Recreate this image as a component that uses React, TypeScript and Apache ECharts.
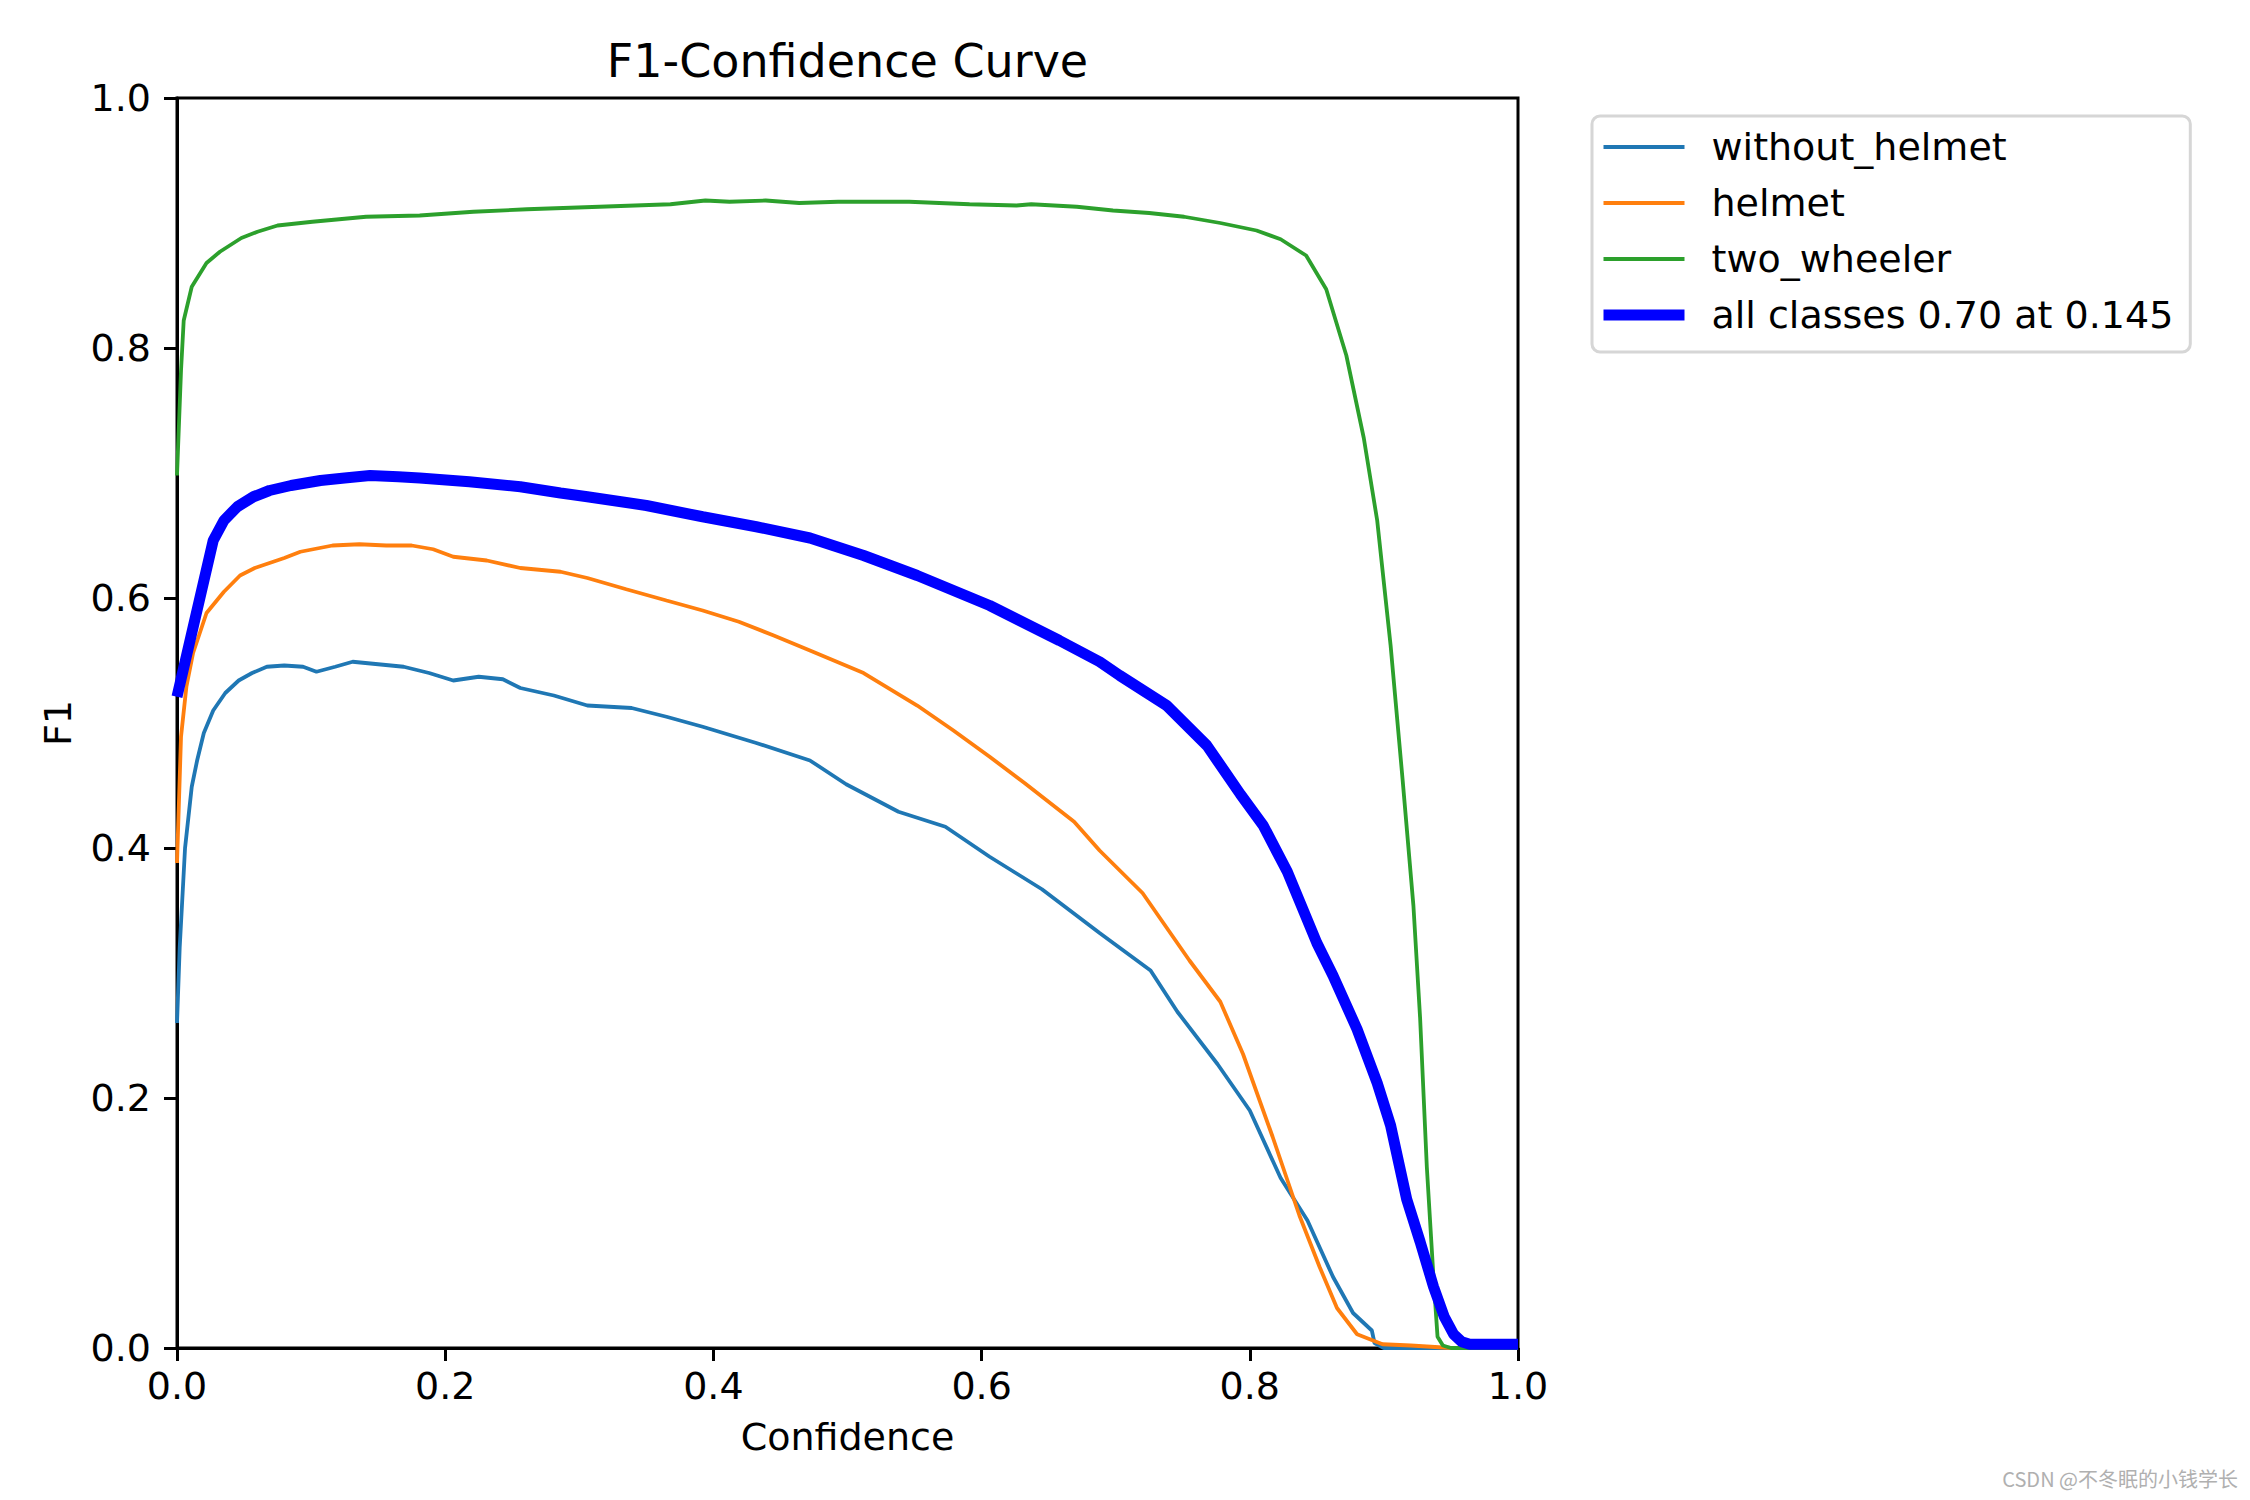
import React, { useEffect, useRef } from "react";
import * as echarts from "echarts";

const TITLE = "F1-Confidence Curve";
const X_NAME = "Confidence";
const Y_NAME = "F1";
const WATERMARK = "CSDN @不冬眠的小钱学长";

const seriesNames = ["without_helmet", "helmet", "two_wheeler", "all classes 0.70 at 0.145"];
const seriesColors = ["#1f77b4", "#ff7f0e", "#2ca02c", "#0000ff"];

const withoutHelmetX = [0, 0.002, 0.006, 0.011, 0.015, 0.02, 0.027, 0.036, 0.046, 0.056, 0.067, 0.08, 0.094, 0.104, 0.118, 0.131, 0.15, 0.169, 0.188, 0.206, 0.225, 0.243, 0.256, 0.281, 0.306, 0.339, 0.365, 0.392, 0.432, 0.472, 0.499, 0.538, 0.573, 0.606, 0.645, 0.688, 0.726, 0.746, 0.776, 0.8, 0.823, 0.843, 0.862, 0.877, 0.891, 0.893, 0.9, 1.0];
const withoutHelmetY = [0.26, 0.32, 0.4, 0.449, 0.47, 0.492, 0.51, 0.524, 0.534, 0.54, 0.545, 0.546, 0.545, 0.541, 0.545, 0.549, 0.547, 0.545, 0.54, 0.534, 0.537, 0.535, 0.528, 0.522, 0.514, 0.512, 0.505, 0.497, 0.484, 0.47, 0.451, 0.429, 0.417, 0.393, 0.367, 0.332, 0.302, 0.269, 0.227, 0.19, 0.136, 0.102, 0.057, 0.028, 0.014, 0.004, 0.0, 0.0];

const helmetX = [0, 0.003, 0.007, 0.012, 0.022, 0.035, 0.047, 0.058, 0.069, 0.08, 0.092, 0.116, 0.136, 0.156, 0.175, 0.191, 0.206, 0.231, 0.256, 0.286, 0.306, 0.335, 0.365, 0.392, 0.419, 0.445, 0.472, 0.512, 0.552, 0.579, 0.606, 0.632, 0.669, 0.688, 0.72, 0.755, 0.778, 0.795, 0.817, 0.837, 0.852, 0.865, 0.88, 0.899, 0.92, 0.95, 1.0];
const helmetY = [0.388, 0.489, 0.529, 0.556, 0.588, 0.605, 0.618, 0.624, 0.628, 0.632, 0.637, 0.642, 0.643, 0.642, 0.642, 0.639, 0.633, 0.63, 0.624, 0.621, 0.616, 0.607, 0.598, 0.59, 0.581, 0.57, 0.558, 0.54, 0.514, 0.494, 0.473, 0.452, 0.421, 0.398, 0.364, 0.31, 0.277, 0.235, 0.169, 0.106, 0.065, 0.032, 0.011, 0.003, 0.002, 0.0, 0.0];

const twoWheelerX = [0, 0.003, 0.005, 0.011, 0.022, 0.032, 0.048, 0.06, 0.075, 0.101, 0.141, 0.181, 0.221, 0.261, 0.315, 0.368, 0.394, 0.412, 0.439, 0.464, 0.493, 0.546, 0.591, 0.626, 0.637, 0.671, 0.698, 0.725, 0.751, 0.778, 0.805, 0.823, 0.842, 0.857, 0.872, 0.885, 0.895, 0.905, 0.914, 0.922, 0.927, 0.932, 0.937, 0.94, 0.944, 0.95, 1.0];
const twoWheelerY = [0.698, 0.782, 0.822, 0.849, 0.868, 0.877, 0.888, 0.893, 0.898, 0.901, 0.905, 0.906, 0.909, 0.911, 0.913, 0.915, 0.918, 0.917, 0.918, 0.916, 0.917, 0.917, 0.915, 0.914, 0.915, 0.913, 0.91, 0.908, 0.905, 0.9, 0.894, 0.887, 0.874, 0.847, 0.794, 0.728, 0.662, 0.562, 0.454, 0.354, 0.264, 0.145, 0.056, 0.009, 0.002, 0.0, 0.0];

const allClassesX = [0, 0.027, 0.035, 0.045, 0.057, 0.069, 0.085, 0.107, 0.125, 0.144, 0.165, 0.181, 0.218, 0.256, 0.286, 0.306, 0.35, 0.392, 0.432, 0.472, 0.512, 0.552, 0.606, 0.658, 0.688, 0.703, 0.738, 0.768, 0.793, 0.81, 0.828, 0.85, 0.862, 0.88, 0.895, 0.905, 0.917, 0.927, 0.937, 0.945, 0.952, 0.958, 0.964, 1.0];
const allClassesY = [0.521, 0.646, 0.662, 0.673, 0.681, 0.686, 0.69, 0.694, 0.696, 0.698, 0.697, 0.696, 0.693, 0.689, 0.684, 0.681, 0.674, 0.665, 0.657, 0.648, 0.634, 0.618, 0.594, 0.566, 0.549, 0.538, 0.514, 0.482, 0.443, 0.418, 0.381, 0.324, 0.298, 0.255, 0.212, 0.178, 0.119, 0.085, 0.049, 0.025, 0.011, 0.005, 0.003, 0.003];

const seriesX = [withoutHelmetX, helmetX, twoWheelerX, allClassesX];
const seriesY = [withoutHelmetY, helmetY, twoWheelerY, allClassesY];
const seriesWidths = [3.8, 3.8, 3.8, 11];

const FONT = "DejaVu Sans";

export default function App() {
  const ref = useRef<HTMLDivElement>(null);
  useEffect(() => {
    if (!ref.current) return;
    const chart = echarts.init(ref.current, undefined, { renderer: "svg" });
    const axisCommon = {
      type: "value",
      min: 0,
      max: 1,
      interval: 0.2,
      splitLine: { show: false },
      axisLine: { show: true, lineStyle: { color: "#000", width: 3 } },
      axisTick: { show: true, length: 13, lineStyle: { color: "#000", width: 3 } },
      axisLabel: {
        color: "#000",
        fontSize: 38,
        fontFamily: FONT,
        formatter: (v: number) => v.toFixed(1),
      },
      nameLocation: "middle",
      nameTextStyle: { color: "#000", fontSize: 38, fontFamily: FONT },
    };
    chart.setOption({
      animation: false,
      backgroundColor: "#fff",
      grid: {
        left: 177,
        top: 98,
        width: 1341,
        height: 1250,
        show: true,
        borderColor: "#000",
        borderWidth: 3,
        backgroundColor: "transparent",
      },
      xAxis: {
        ...axisCommon,
        axisLabel: { ...axisCommon.axisLabel, margin: 19 },
        name: X_NAME,
        nameGap: 70,
      },
      yAxis: {
        ...axisCommon,
        axisLabel: { ...axisCommon.axisLabel, margin: 26 },
        name: Y_NAME,
        nameGap: 100,
      },
      legend: {
        orient: "vertical",
        left: 1592,
        top: 116,
        padding: [8, 17, 14, 6],
        itemGap: 10,
        itemWidth: 81,
        itemHeight: 14,
        selectedMode: false,
        backgroundColor: "#fff",
        borderColor: "#d6d6d6",
        borderWidth: 3,
        borderRadius: 8,
        lineStyle: { width: "inherit" },
        itemStyle: { opacity: 0, borderWidth: 0 },
        textStyle: {
          color: "#000",
          fontSize: 38,
          fontFamily: FONT,
          lineHeight: 46,
          padding: [0, 0, 0, 22],
        },
        data: seriesNames,
      },
      graphic: [
        {
          type: "text",
          x: 847.5,
          y: 61,
          style: {
            text: TITLE,
            fontSize: 46,
            fontFamily: FONT,
            fill: "#000",
            align: "center",
            verticalAlign: "middle",
          },
        },
        {
          type: "text",
          x: 2238,
          y: 1478,
          style: {
            text: WATERMARK,
            fontSize: 20,
            fontFamily: "Noto Sans CJK SC",
            fill: "#b0b0b0",
            align: "right",
            verticalAlign: "middle",
          },
        },
      ],
      series: seriesNames.map((name, i) => ({
        name,
        type: "line",
        showSymbol: false,
        symbol: "none",
        clip: true,
        lineStyle: { color: seriesColors[i], width: seriesWidths[i] },
        itemStyle: { color: seriesColors[i] },
        data: seriesX[i].map((x, j) => [x, seriesY[i][j]]),
      })),
    });
    return () => chart.dispose();
  }, []);
  return (
    <div
      ref={ref}
      style={{ position: "absolute", left: 0, top: 0, width: 2250, height: 1500 }}
    />
  );
}
